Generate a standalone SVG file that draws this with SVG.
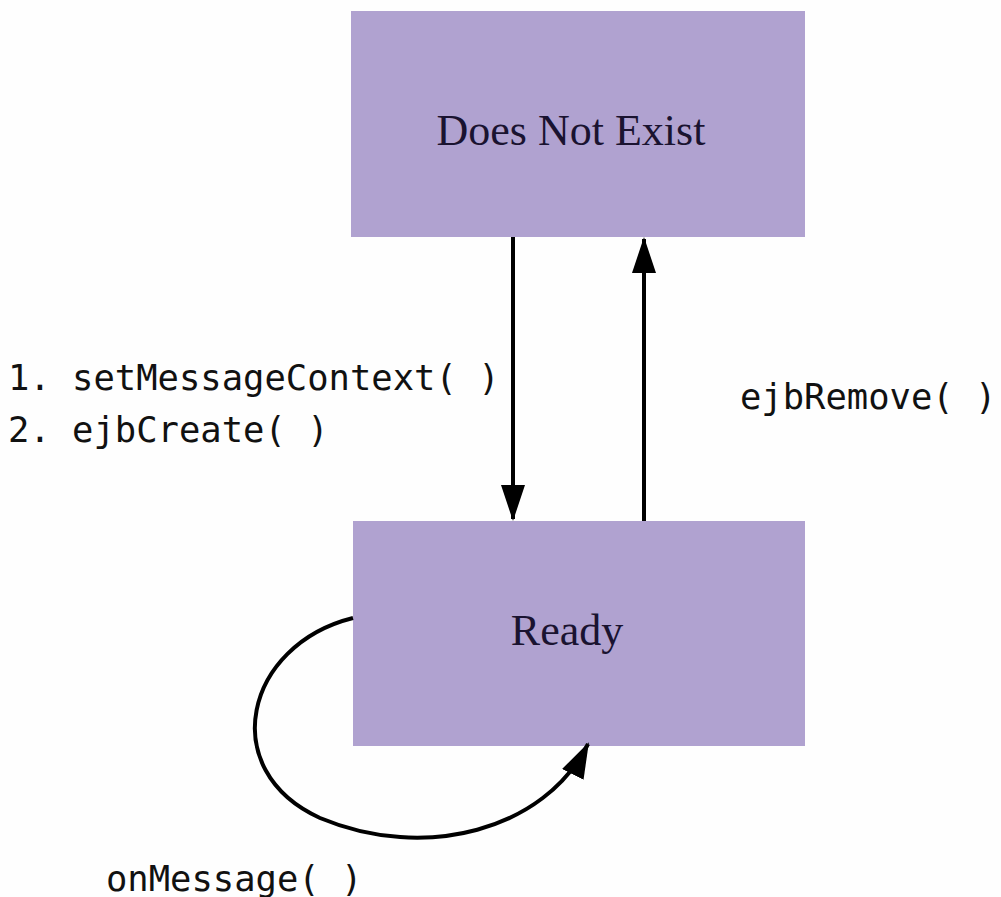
<svg xmlns="http://www.w3.org/2000/svg" width="1001" height="897" viewBox="0 0 1001 897">
<style>
.box{fill:#b0a2d0;}
.lbl{font-family:"Liberation Serif","Times New Roman",serif;font-size:44px;fill:#1a1330;text-anchor:middle;}
.code{font-family:"DejaVu Sans Mono","Liberation Mono",monospace;font-size:35.5px;fill:#111;}
.edge{fill:none;stroke:#000;stroke-width:4;}
</style>
<defs>
<marker id="ah" markerWidth="36" markerHeight="26" refX="34" refY="13" orient="auto" markerUnits="userSpaceOnUse">
<path d="M0,1 L36,13 L0,25 Z" fill="#000"/>
</marker>
</defs>
<rect width="1001" height="897" fill="#fefefe"/>
<g id="node-does-not-exist">
<rect class="box" x="351" y="11" width="454" height="226"/>
<text class="lbl" x="571" y="145">Does Not Exist</text>
</g>
<g id="node-ready">
<rect class="box" x="353" y="521" width="452" height="225"/>
<text class="lbl" x="567" y="645">Ready</text>
</g>
<g id="connectors">
<path class="edge" d="M513,237 L513,519" marker-end="url(#ah)"/>
<path class="edge" d="M644,521 L644,239" marker-end="url(#ah)"/>
<path class="edge" d="M353,618 C 245,645 215,770 320,818 C 425,862 545,830 588,744" marker-end="url(#ah)"/>
</g>
<g id="labels">
<text class="code" x="8" y="390">1. setMessageContext( )</text>
<text class="code" x="8" y="442">2. ejbCreate( )</text>
<text class="code" x="740" y="409">ejbRemove( )</text>
<text class="code" x="106" y="891">onMessage( )</text>
</g>
</svg>
